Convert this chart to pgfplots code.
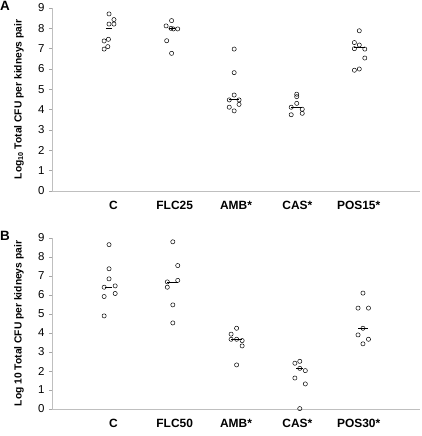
\documentclass[border=0pt]{standalone}
\usepackage{fontspec}
\setmainfont{Liberation Sans}
\usepackage{pgfplots}
\pgfplotsset{compat=1.18}
\begin{document}
\begin{tikzpicture}
\useasboundingbox (0,0) rectangle (422bp,436bp);
\pgfplotsset{
  myax/.style={
    scale only axis, width=368bp,
    xmin=0, xmax=6, ymin=0, ymax=9,
    axis x line=bottom, axis y line=left,
    axis line style={draw=black!25, line width=0.7bp, -},
    ytick={0,...,9},
    ytick align=outside, ytick pos=left,
    major tick length=3bp,
    ytick style={draw=black!35, line width=0.6bp},
    xtick={1,2,3,4,5},
    xtick style={draw=none},
    /pgf/number format/assume math mode=true,
    yticklabel style={font=\fontsize{11.5}{12}\selectfont, xshift=-1bp},
    xticklabel style={font=\bfseries\fontsize{12}{13}\selectfont, yshift=-5bp},
    y label style={at={(axis description cs:-0.09,0.5)}, anchor=center, font=\bfseries\fontsize{10.3}{11}\selectfont},
    clip=false,
  },
  pts/.style={only marks, mark=o, mark size=2.1bp, mark options={draw=black, line width=0.5bp}},
  med/.style={black, line width=1bp, no marks},
}
\node[anchor=north west, font=\bfseries\fontsize{13.5}{13.5}\selectfont, inner sep=0pt] at (0bp,435bp) {A};
\node[anchor=north west, font=\bfseries\fontsize{13.5}{13.5}\selectfont, inner sep=0pt] at (0bp,205bp) {B};
\begin{axis}[myax, height=183bp, at={(52bp,245bp)}, anchor=south west,
  xticklabels={C,FLC25,AMB*,CAS*,POS15*},
  ylabel={Log\textsubscript{10} Total CFU per kidneys pair}]
\addplot[pts] coordinates {
(0.93,8.71) (1.01,8.43) (0.93,8.21) (1.01,8.21) (0.92,7.46) (0.85,7.38) (0.91,7.10) (0.85,6.98)
(1.95,8.38) (1.86,8.12) (1.94,8.00) (1.98,7.97) (2.05,7.97) (1.87,7.39) (1.95,6.77)
(2.97,6.98) (2.97,5.82) (2.97,4.72) (2.89,4.48) (3.05,4.48) (3.05,4.26) (2.89,4.12) (2.97,3.94)
(3.99,4.76) (3.99,4.64) (3.99,4.31) (3.90,4.12) (4.08,4.02) (4.08,3.82) (3.90,3.75)
(5.01,7.88) (4.93,7.30) (5.01,7.18) (4.93,7.00) (5.10,6.98) (5.10,6.54) (4.93,5.94) (5.01,6.00)
};
\addplot[med] coordinates {(0.88,7.97) (0.98,7.97)};
\addplot[med] coordinates {(1.91,7.97) (2.01,7.97)};
\addplot[med] coordinates {(2.89,4.48) (3.05,4.48)};
\addplot[med] coordinates {(3.90,4.12) (4.08,4.12)};
\addplot[med] coordinates {(4.93,7.05) (5.10,7.05)};
\end{axis}
\begin{axis}[myax, height=171bp, at={(52bp,27bp)}, anchor=south west,
  xticklabels={C,FLC50,AMB*,CAS*,POS30*},
  ylabel={Log 10 Total CFU per kidneys pair}]
\addplot[pts] coordinates {
(0.93,8.65) (0.93,7.38) (0.93,6.85) (0.85,6.41) (1.03,6.48) (1.03,6.08) (0.85,5.92) (0.85,4.90)
(1.97,8.80) (2.05,7.55) (2.05,6.77) (1.88,6.69) (1.88,6.41) (1.97,5.48) (1.97,4.53)
(3.01,4.25) (2.92,3.94) (2.92,3.67) (3.01,3.67) (3.10,3.60) (3.10,3.32) (3.01,2.32)
(3.96,2.41) (4.04,2.51) (4.04,2.14) (4.13,2.02) (3.96,1.63) (4.13,1.32) (4.04,0.02)
(5.07,6.10) (4.99,5.31) (5.16,5.31) (5.07,4.25) (4.99,3.90) (5.16,3.67) (5.07,3.43)
};
\addplot[med] coordinates {(0.86,6.41) (0.98,6.41)};
\addplot[med] coordinates {(1.88,6.66) (2.05,6.66)};
\addplot[med] coordinates {(2.92,3.67) (3.10,3.67)};
\addplot[med] coordinates {(3.98,2.11) (4.10,2.11)};
\addplot[med] coordinates {(4.99,4.25) (5.16,4.25)};
\end{axis}
\end{tikzpicture}
\end{document}
